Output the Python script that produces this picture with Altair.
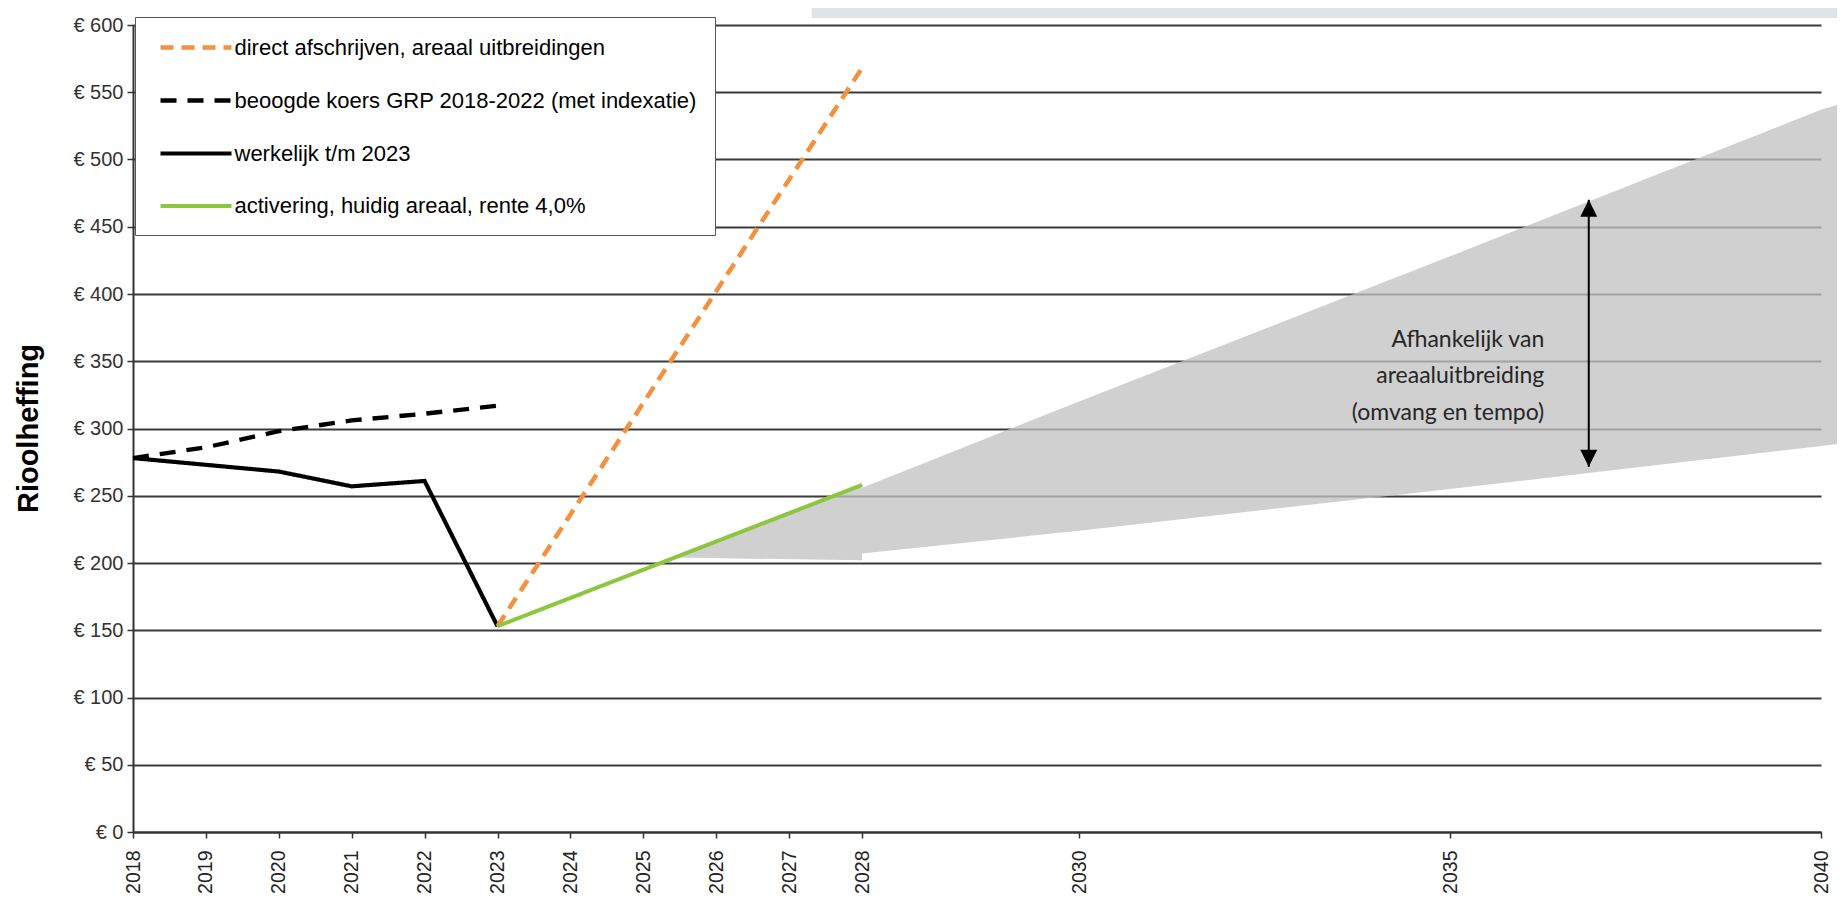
import altair as alt
import pandas as pd

# ---------------- data ----------------
S_DIRECT = "direct afschrijven, areaal uitbreidingen"
S_BEOOGD = "beoogde koers GRP 2018-2022 (met indexatie)"
S_WERK = "werkelijk t/m 2023"
S_ACT = "activering, huidig areaal, rente 4,0%"

series_order = [S_DIRECT, S_BEOOGD, S_WERK, S_ACT]
series_colors = ["#f4913f", "#000000", "#000000", "#8cc63f"]
series_dash = [[13, 8], [16, 11], [1, 0], [1, 0]]
series_width = [4.5, 4, 5, 3.5]

years_actual = [2018, 2019, 2020, 2021, 2022, 2023]
werkelijk = [278, 273, 268, 257, 261, 153]

years_target = [2018, 2019, 2020, 2021, 2022, 2023]
beoogd = [278, 286, 298, 306, 311, 317]

years_proj = [2023, 2028]
direct = [153, 568]
activering = [153, 258]

band_years = [2025.45, 2028, 2028.001, 2030, 2035, 2040, 2040.3]
band_low = [204, 202, 207, 224, 255, 287, 289]
band_high = [204, 258, 256, 320, 428, 537, 542]

x_ticks = [2018, 2019, 2020, 2021, 2022, 2023, 2024, 2025, 2026, 2027, 2028,
           2030, 2035, 2040]
y_ticks = list(range(0, 601, 50))

annotation_text = "Afhankelijk van\nareaaluitbreiding\n(omvang en tempo)"
annotation_year = [2036.27]
annotation_value = [360.6]

arrow_year = [2036.87]
arrow_top = [470]
arrow_bottom = [271.5]

# ---------------- tables ----------------
rows = []
for s, xs, ys in [(S_WERK, years_actual, werkelijk),
                  (S_BEOOGD, years_target, beoogd),
                  (S_DIRECT, years_proj, direct),
                  (S_ACT, years_proj, activering)]:
    for x, y in zip(xs, ys):
        rows.append({"year": x, "value": y, "series": s})
lines_df = pd.DataFrame(rows)

band_df = pd.DataFrame({"year": band_years, "low": band_low, "high": band_high})

ann_df = pd.DataFrame({"year": annotation_year, "value": annotation_value,
                       "label": [annotation_text]})
rule_df = pd.DataFrame({"year": arrow_year, "value": arrow_top, "value2": arrow_bottom})
up_df = pd.DataFrame({"year": arrow_year, "value": arrow_top})
down_df = pd.DataFrame({"year": arrow_year, "value": arrow_bottom})
bar_df = pd.DataFrame({"year": [2027.31], "year2": [2040.3],
                       "value": [612.6], "value2": [605.2]})

# ---------------- scales / axes ----------------
xscale = alt.Scale(domain=[2018, 2028, 2030, 2040], range=[0, 729, 946, 1688],
                   nice=False, zero=False)
yscale = alt.Scale(domain=[0, 600], nice=False, zero=True)

xaxis = alt.Axis(values=x_ticks, format="d", title=None, grid=False,
                 labelAngle=270, labelFontSize=19.5, labelFont="Liberation Sans",
                 labelColor="#222222", labelPadding=12, labelOverlap=False,
                 labelFlush=False, tickSize=6, tickColor="#333333", tickWidth=1.5,
                 domainColor="#333333", domainWidth=2)
yaxis = alt.Axis(values=y_ticks, labelExpr="'€ ' + datum.value",
                 title="Rioolheffing", titleFont="Liberation Sans", titleFontSize=29,
                 titleFontWeight="bold", titleColor="#000000", titleAngle=270,
                 titleX=-104.5, titleY=403, titleAlign="center", titleBaseline="middle",
                 labelFontSize=20, labelFont="Liberation Sans", labelColor="#333333",
                 labelPadding=4, labelOverlap=False, labelFlush=False,
                 tickSize=6, tickColor="#333333", tickWidth=1.5,
                 grid=True, gridColor="#3a3a3a", gridWidth=2,
                 domainColor="#333333", domainWidth=2)


def ex(field="year"):
    return alt.X(f"{field}:Q", scale=xscale, axis=xaxis)


def ey(field="value"):
    return alt.Y(f"{field}:Q", scale=yscale, axis=yaxis)


# ---------------- layers ----------------
top_bar = alt.Chart(bar_df).mark_rect(color="#e1e4e7").encode(
    x=ex(), x2="year2:Q", y=ey(), y2="value2:Q")

band = alt.Chart(band_df).mark_area(color="#c2c2c2", opacity=0.77).encode(
    x=ex(), y=ey("low"), y2="high:Q")

legend = alt.Legend(
    title=None, orient="none", legendX=2, legendY=-8,
    fillColor="#ffffff", strokeColor="#555555", padding=18,
    symbolType="M-3.55,0H3.55", symbolSize=400, symbolOffset=30.5,
    labelOffset=26, rowPadding=29, labelFontSize=22, labelFont="Liberation Sans",
    labelColor="#000000", labelLimit=700, symbolStrokeWidth=4)

lines = alt.Chart(lines_df).mark_line(strokeCap="butt").encode(
    x=ex(), y=ey(),
    color=alt.Color("series:N", scale=alt.Scale(domain=series_order, range=series_colors),
                    legend=legend),
    strokeDash=alt.StrokeDash("series:N",
                              scale=alt.Scale(domain=series_order, range=series_dash),
                              legend=legend),
    strokeWidth=alt.StrokeWidth("series:N",
                                scale=alt.Scale(domain=series_order, range=series_width),
                                legend=legend),
    detail="series:N",
)

arrow_line = alt.Chart(rule_df).mark_rule(color="#000000", strokeWidth=2).encode(
    x=ex(), y=ey(), y2="value2:Q")
arrow_up = alt.Chart(up_df).mark_point(shape="M0,0L-1,2L1,2Z", filled=True, size=289,
                                       color="#000000", opacity=1).encode(x=ex(), y=ey())
arrow_down = alt.Chart(down_df).mark_point(shape="M0,0L-1,-2L1,-2Z", filled=True, size=289,
                                           color="#000000", opacity=1).encode(x=ex(), y=ey())

ann = alt.Chart(ann_df).mark_text(align="right", baseline="alphabetic", font="Lato",
                                  fontSize=23, color="#262626", lineBreak="\n",
                                  lineHeight=36.5).encode(
    x=ex(), y=ey(), text="label:N")

chart = alt.layer(top_bar, band, lines, arrow_line, arrow_up, arrow_down, ann).properties(
    width=1704, height=807,
    autosize=alt.AutoSizeParams(type="none"),
    padding={"left": 125, "top": 17, "right": 0, "bottom": 62},
).configure_view(stroke=None)

chart.save("out.html", embed_options={"renderer": "svg", "actions": False})
